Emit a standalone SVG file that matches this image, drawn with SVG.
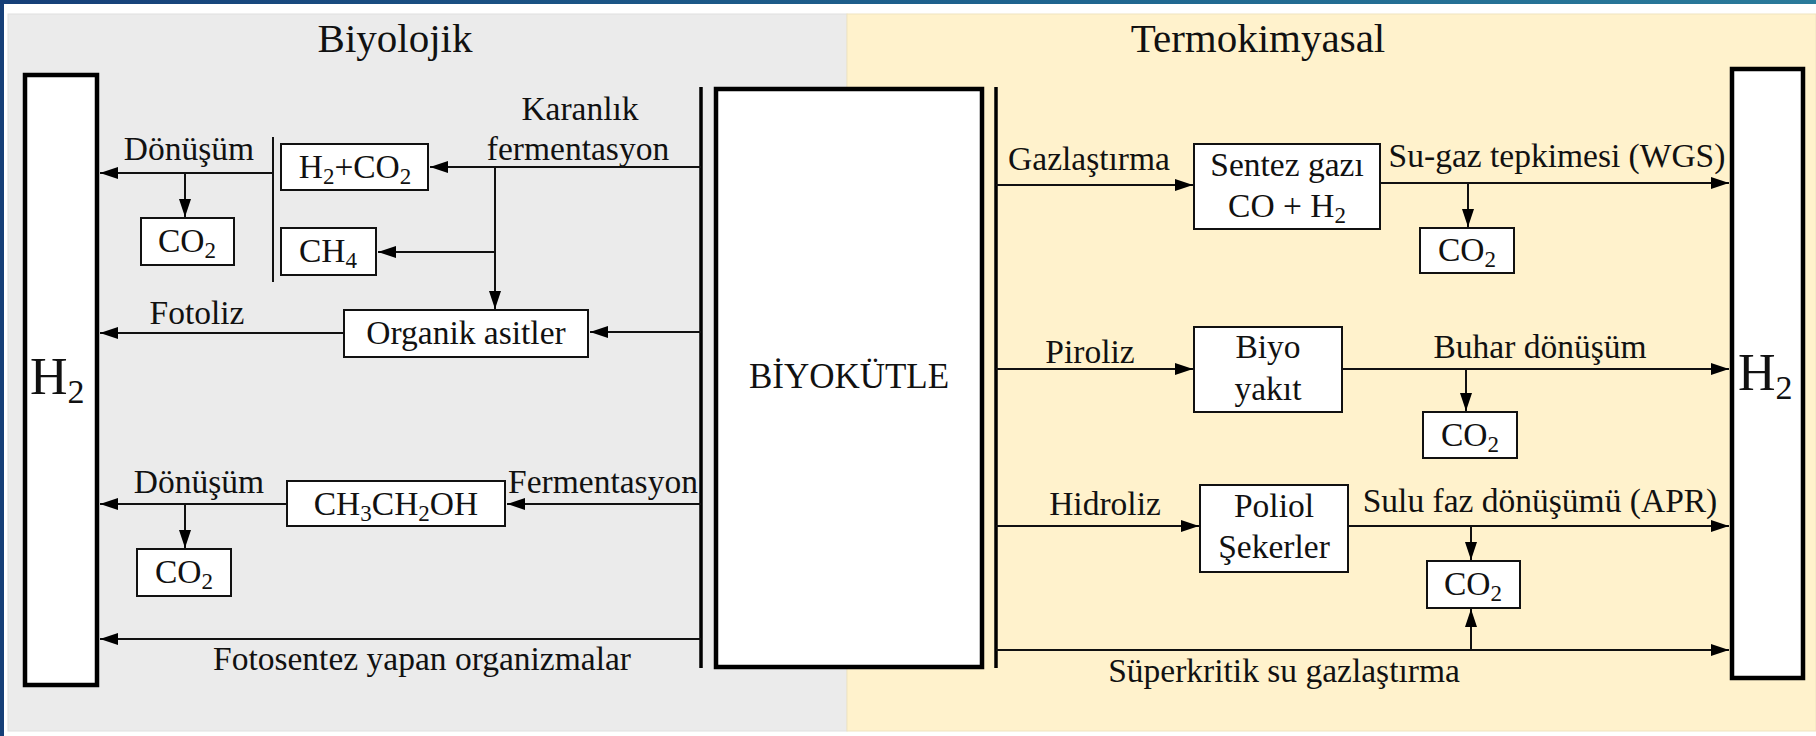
<svg xmlns="http://www.w3.org/2000/svg" width="1816" height="736" viewBox="0 0 1816 736">
<defs>
<linearGradient id="topband" x1="0" y1="0" x2="1" y2="0">
<stop offset="0" stop-color="#163f78"/>
<stop offset="0.6" stop-color="#1f6690"/>
<stop offset="1" stop-color="#2a7a9a"/>
</linearGradient>
<marker id="ah" markerUnits="userSpaceOnUse" markerWidth="20" markerHeight="14" refX="18" refY="6" orient="auto">
<path d="M0,0 L18,6 L0,12 Z" fill="#000"/>
</marker>
<style>
text{font-family:"Liberation Serif","Times New Roman",serif;fill:#111;text-anchor:middle}
.lbl{font-size:33.5px}
.ttl{font-size:41px}
.big{font-size:52px;text-anchor:start}
.box{fill:#fff;stroke:#111;stroke-width:2}
.bigbox{fill:#fff;stroke:#000;stroke-width:4.5}
.ln{fill:none;stroke:#111;stroke-width:2}
.arr{fill:none;stroke:#111;stroke-width:2;marker-end:url(#ah)}
.bar{stroke:#000;stroke-width:3.5}
</style>
</defs>
<rect x="0" y="0" width="1816" height="736" fill="#fff"/>
<rect x="0" y="0" width="1816" height="4" fill="url(#topband)"/>
<rect x="0" y="0" width="4" height="736" fill="#163f78"/>
<rect x="8" y="14" width="839" height="717" fill="#ebebeb" stroke="#e0e0e0" stroke-width="1"/>
<rect x="847" y="14" width="969" height="717" fill="#fff2cc" stroke="#efe3c0" stroke-width="1"/>
<text class="ttl" x="395" y="52">Biyolojik</text>
<text class="ttl" x="1258" y="52">Termokimyasal</text>

<g id="connectors">
<line class="bar" x1="701" y1="87" x2="701" y2="668"/>
<line class="bar" x1="996" y1="87" x2="996" y2="668"/>
<line class="ln" x1="273" y1="137" x2="273" y2="282"/>
<line class="arr" x1="701" y1="167" x2="430" y2="167"/>
<line class="arr" x1="495" y1="167" x2="495" y2="309"/>
<line class="arr" x1="495" y1="252" x2="378" y2="252"/>
<line class="arr" x1="273" y1="173" x2="100" y2="173"/>
<line class="arr" x1="185" y1="173" x2="185" y2="217"/>
<line class="arr" x1="701" y1="332" x2="590" y2="332"/>
<line class="arr" x1="344" y1="333" x2="100" y2="333"/>
<line class="arr" x1="701" y1="504" x2="507" y2="504"/>
<line class="arr" x1="287" y1="504" x2="100" y2="504"/>
<line class="arr" x1="185" y1="504" x2="185" y2="548"/>
<line class="arr" x1="701" y1="639" x2="100" y2="639"/>
<line class="arr" x1="996" y1="185" x2="1193" y2="185"/>
<line class="arr" x1="1380" y1="183" x2="1729" y2="183"/>
<line class="arr" x1="1468" y1="183" x2="1468" y2="227"/>
<line class="arr" x1="996" y1="369" x2="1193" y2="369"/>
<line class="arr" x1="1342" y1="369" x2="1729" y2="369"/>
<line class="arr" x1="1466" y1="369" x2="1466" y2="411"/>
<line class="arr" x1="996" y1="526" x2="1199" y2="526"/>
<line class="arr" x1="1348" y1="526" x2="1729" y2="526"/>
<line class="arr" x1="1471" y1="526" x2="1471" y2="560"/>
<line class="arr" x1="996" y1="650" x2="1729" y2="650"/>
<line class="arr" x1="1471" y1="650" x2="1471" y2="609"/>
</g>

<g id="labels">
<text class="lbl" x="580" y="120">Karanlık</text>
<text class="lbl" x="578" y="160">fermentasyon</text>
<text class="lbl" x="189" y="160">Dönüşüm</text>
<text class="lbl" x="197" y="324">Fotoliz</text>
<text class="lbl" x="199" y="493">Dönüşüm</text>
<text class="lbl" x="603" y="493">Fermentasyon</text>
<text class="lbl" x="422" y="670">Fotosentez yapan organizmalar</text>
<text class="lbl" x="1089" y="170">Gazlaştırma</text>
<text class="lbl" x="1557" y="167">Su-gaz tepkimesi (WGS)</text>
<text class="lbl" x="1090" y="363">Piroliz</text>
<text class="lbl" x="1540" y="358">Buhar dönüşüm</text>
<text class="lbl" x="1105" y="515">Hidroliz</text>
<text class="lbl" x="1540" y="512">Sulu faz dönüşümü (APR)</text>
<text class="lbl" x="1284" y="682">Süperkritik su gazlaştırma</text>
</g>

<g id="h2-left">
<rect class="bigbox" x="25" y="75" width="72" height="610"/>
<text class="big" x="30" y="394">H<tspan font-size="34" dy="9">2</tspan></text>
</g>
<g id="h2-right">
<rect class="bigbox" x="1732" y="69" width="71" height="609"/>
<text class="big" x="1738" y="390">H<tspan font-size="34" dy="9">2</tspan></text>
</g>
<g id="biyokutle">
<rect class="bigbox" x="716" y="89" width="266" height="578"/>
<text x="849" y="388" font-size="35">BİYOKÜTLE</text>
</g>
<g id="h2co2">
<rect class="box" x="281" y="144" width="147" height="46"/>
<text class="lbl" x="355" y="178">H<tspan font-size="23" dy="6">2</tspan><tspan dy="-6">+CO</tspan><tspan font-size="23" dy="6">2</tspan></text>
</g>
<g id="ch4">
<rect class="box" x="281" y="228" width="95" height="47"/>
<text class="lbl" x="328" y="262">CH<tspan font-size="23" dy="6">4</tspan></text>
</g>
<g id="co2-a">
<rect class="box" x="141" y="218" width="93" height="47"/>
<text class="lbl" x="187" y="252">CO<tspan font-size="23" dy="6">2</tspan></text>
</g>
<g id="organik">
<rect class="box" x="344" y="310" width="244" height="47"/>
<text class="lbl" x="466" y="344">Organik asitler</text>
</g>
<g id="etanol">
<rect class="box" x="287" y="481" width="218" height="45"/>
<text class="lbl" x="396" y="515">CH<tspan font-size="23" dy="6">3</tspan><tspan dy="-6">CH</tspan><tspan font-size="23" dy="6">2</tspan><tspan dy="-6">OH</tspan></text>
</g>
<g id="co2-b">
<rect class="box" x="137" y="549" width="94" height="47"/>
<text class="lbl" x="184" y="583">CO<tspan font-size="23" dy="6">2</tspan></text>
</g>
<g id="sentez">
<rect class="box" x="1194" y="144" width="186" height="85"/>
<text class="lbl" x="1287" y="176">Sentez gazı</text>
<text class="lbl" x="1287" y="217">CO + H<tspan font-size="23" dy="6">2</tspan></text>
</g>
<g id="co2-c">
<rect class="box" x="1420" y="228" width="94" height="45"/>
<text class="lbl" x="1467" y="261">CO<tspan font-size="23" dy="6">2</tspan></text>
</g>
<g id="biyoyakit">
<rect class="box" x="1194" y="327" width="148" height="85"/>
<text class="lbl" x="1268" y="358">Biyo</text>
<text class="lbl" x="1268" y="400">yakıt</text>
</g>
<g id="co2-d">
<rect class="box" x="1423" y="412" width="94" height="46"/>
<text class="lbl" x="1470" y="446">CO<tspan font-size="23" dy="6">2</tspan></text>
</g>
<g id="poliol">
<rect class="box" x="1200" y="485" width="148" height="87"/>
<text class="lbl" x="1274" y="517">Poliol</text>
<text class="lbl" x="1274" y="558">Şekerler</text>
</g>
<g id="co2-e">
<rect class="box" x="1427" y="561" width="93" height="47"/>
<text class="lbl" x="1473" y="595">CO<tspan font-size="23" dy="6">2</tspan></text>
</g>
</svg>
